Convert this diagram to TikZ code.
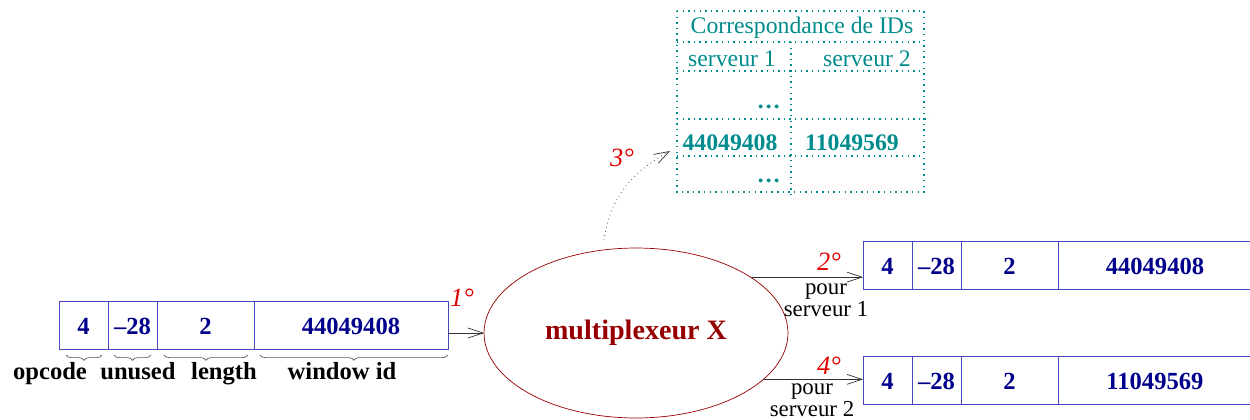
\documentclass[tikz,border=0pt]{standalone}
\usepackage{fontspec}
\setmainfont{Liberation Serif}
\usepackage{tikz}
\usetikzlibrary{positioning,shapes.geometric,decorations.pathreplacing,arrows.meta}
\definecolor{recblue}{RGB}{0,0,140}
\definecolor{recline}{RGB}{70,70,190}
\definecolor{tblteal}{RGB}{0,140,140}
\definecolor{muxred}{RGB}{150,0,0}
\definecolor{stepred}{RGB}{225,0,0}

\begin{document}
\begin{tikzpicture}[x=0.02cm, y=-0.02cm, node distance=0pt,
    fld/.style={draw=recline, text=recblue, font=\fontsize{14}{16}\selectfont\bfseries,
      minimum height=0.96cm, inner sep=0pt, outer sep=0pt, text height=2.4ex, text depth=0pt},
    opbox/.style={fld, minimum width=0.98cm},
    lenbox/.style={fld, minimum width=1.94cm},
    idbox/.style={fld, minimum width=3.88cm},
    lbl/.style={font=\fontsize{14}{16}\selectfont\bfseries, anchor=base, inner sep=0pt},
    stepnum/.style={text=stepred, font=\fontsize{15}{16}\selectfont\itshape, inner sep=0pt},
    dest/.style={align=center, font=\fontsize{13}{10}\selectfont, inner sep=0pt},
    tbl/.style={draw=tblteal, dash pattern=on 0.8pt off 2.4pt, line width=0.6pt},
    tbltxt/.style={text=tblteal, font=\fontsize{13.5}{16}\selectfont, inner sep=0pt},
    tblbold/.style={tbltxt, font=\fontsize{13.5}{16}\selectfont\bfseries},
    brc/.style={decorate, decoration={brace, mirror, amplitude=3pt}, gray!70!black},
    arr/.style={-{Straight Barb[length=3mm,width=2mm]}, black!80}]

  \useasboundingbox (0,0) rectangle (1250,419);

  % Request from the client
  \node[opbox, anchor=west] (op) at (59,325) {4};
  \node[opbox] (un) [right=of op] {--28};
  \node[lenbox] (len) [right=of un] {2};
  \node[idbox] (win) [right=of len] {44049408};

  % Field names
  \draw[brc] ([xshift=0.14cm,yshift=-0.12cm]op.south west) -- ([xshift=-0.12cm,yshift=-0.12cm]op.south east);
  \draw[brc] ([xshift=0.12cm,yshift=-0.12cm]un.south west) -- ([xshift=-0.12cm,yshift=-0.12cm]un.south east);
  \draw[brc] ([xshift=0.14cm,yshift=-0.12cm]len.south west) -- ([xshift=-0.12cm,yshift=-0.12cm]len.south east);
  \draw[brc] ([xshift=0.12cm,yshift=-0.12cm]win.south west) -- ([yshift=-0.12cm]win.south east);
  \node[lbl] (opl) at (50,379) {opcode};
  \node[lbl] (unl) at (138,379) {unused};
  \node[lbl] (lenl) at (224,379) {length};
  \node[lbl] (winl) at (342,379) {window id};

  % Multiplexer
  \node[draw=muxred, ellipse, minimum width=6.08cm, minimum height=3.4cm, inner sep=0pt,
    outer sep=0pt, text=muxred, font=\fontsize{16}{18}\selectfont\bfseries] (mux) at (636,333) {multiplexeur X};

  % Requests to the servers
  \node[opbox, anchor=west] (op1) at (863,265) {4};
  \node[opbox] (un1) [right=of op1] {--28};
  \node[lenbox] (len1) [right=of un1] {2};
  \node[idbox] (win1) [right=of len1] {44049408};

  \node[opbox, anchor=west] (op2) at (863,380) {4};
  \node[opbox] (un2) [right=of op2] {--28};
  \node[lenbox] (len2) [right=of un2] {2};
  \node[idbox] (win2) [right=of len2] {11049569};

  % Table of IDs
  \draw[tbl] (677,11) rectangle (924,192);
  \draw[tbl] (677,42) -- (924,42) (677,71) -- (924,71) (677,119) -- (930,119) (677,156) -- (924,156);
  \draw[tbl] (791,42) -- (791,197);
  \node[tbltxt] (ttl) at (802,28) {Correspondance de IDs};
  \node[tbltxt] (srv1) at (732,59) {serveur 1};
  \node[tbltxt] (srv2) at (867,59) {serveur 2};
  \node[tblbold, anchor=base east] (dotsA) at (781,108) {\ldots};
  \node[tblbold] (idA) at (730,143) {44049408};
  \node[tblbold] (idB) at (852,143) {11049569};
  \node[tblbold, anchor=base east] (dotsB) at (781,182) {\ldots};

  % Steps
  \coordinate (q3) at (604,240);
  \coordinate (t3) at (670,151);
  \draw[arr] (win.east |- mux.west) -- (mux.west);
  \draw[arr] (mux.26) -- (mux.26 -| op1.west);
  \draw[arr, dotted] (q3) to[out=82, in=209] (t3);
  \draw[arr] (mux.-20.5) -- (mux.-20.5 -| op2.west);

  \node[stepnum] (s1) at (462,298) {1°};
  \node[stepnum] (s2) at (829,262) {2°};
  \node[stepnum] (s3) at (622,158) {3°};
  \node[stepnum] (s4) at (829,366) {4°};
  \node[dest] (p1) at (826,300) {pour\\serveur 1};
  \node[dest] (p2) at (812,400) {pour\\serveur 2};

\end{tikzpicture}
\end{document}
